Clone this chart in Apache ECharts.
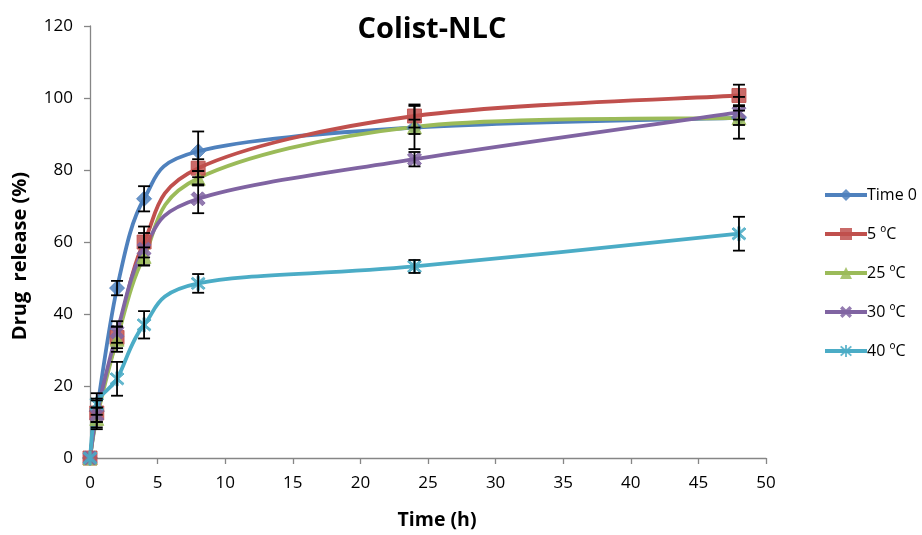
<!DOCTYPE html>
<html>
<head>
<meta charset="utf-8">
<script src="https://cdn.jsdelivr.net/npm/echarts@6/dist/echarts.min.js"></script>
<style>html,body{margin:0;padding:0;background:#fff}#c{width:922px;height:535px}</style>
</head>
<body>
<div id="c"></div>
<script>
const xValues = [0, 0.5, 2, 4, 8, 24, 48];
const seriesNames = ['Time 0', '5 ºC', '25 ºC', '30 ºC', '40 ºC'];
const time0 = [0, 13, 47.2, 72, 85.2, 91.8, 94.5];
const c5 = [0, 12.5, 33.5, 60, 80.5, 95, 100.7];
const c25 = [0, 11, 33, 56, 77.7, 92, 94.5];
const c30 = [0, 12, 35, 58, 72, 83, 96];
const c40 = [0, 15, 22, 37, 48.5, 53.2, 62.3];
const time0Err = [0, 3, 2, 3.5, 5.5, 6, 2];
const c5Err = [0, 4, 3, 4.3, 2.5, 3.2, 3];
const c25Err = [0, 3, 3.5, 2.5, 2, 2, 5.8];
const c30Err = [0, 2, 3, 4.5, 4, 2, 2];
const c40Err = [0, 3, 4.7, 3.8, 2.6, 1.8, 4.7];
const yTicks = [0, 20, 40, 60, 80, 100, 120];
const xTicks = [0, 5, 10, 15, 20, 25, 30, 35, 40, 45, 50];

const values = [time0, c5, c25, c30, c40];
const errors = [time0Err, c5Err, c25Err, c30Err, c40Err];
const colors = ['#4F81BD', '#C0504D', '#9BBB59', '#8064A2', '#4BACC6'];
const symX = 'path://M2,0 L5,3 L8,0 L10,2 L7,5 L10,8 L8,10 L5,7 L2,10 L0,8 L3,5 L0,2 Z';
const symStar = 'path://M4.3,0 L5.7,0 L5.7,10 L4.3,10 Z M0.6,1.6 L1.6,0.6 L9.4,8.4 L8.4,9.4 Z M1.6,9.4 L0.6,8.4 L8.4,0.6 L9.4,1.6 Z';
const symbols = ['diamond', 'rect', 'triangle', symX, symStar];
const symSizes = [15, 14, 14, 14, 14];

// Catmull-Rom style smooth path through points projected by the axis scales
function smoothPath(pts) {
  let d = 'M' + pts[0][0] + ',' + pts[0][1];
  const t = 0.5 / 3 * 2;
  for (let i = 0; i < pts.length - 1; i++) {
    const p0 = pts[i - 1] || pts[i];
    const p1 = pts[i];
    const p2 = pts[i + 1];
    const p3 = pts[i + 2] || p2;
    const c1x = p1[0] + (p2[0] - p0[0]) * t / 2;
    const c1y = p1[1] + (p2[1] - p0[1]) * t / 2;
    const c2x = p2[0] - (p3[0] - p1[0]) * t / 2;
    const c2y = p2[1] - (p3[1] - p1[1]) * t / 2;
    d += ' C' + c1x + ',' + c1y + ' ' + c2x + ',' + c2y + ' ' + p2[0] + ',' + p2[1];
  }
  return d;
}

const chart = echarts.init(document.getElementById('c'));
const series = [];
values.forEach((vals, i) => {
  series.push({
    type: 'custom',
    name: seriesNames[i] + ' curve',
    data: [0],
    z: 1,
    silent: true,
    renderItem: function (params, api) {
      const pts = xValues.map((x, j) => api.coord([x, vals[j]]));
      return {
        type: 'path',
        shape: { pathData: smoothPath(pts) },
        style: { fill: 'none', stroke: colors[i], lineWidth: 3.8, lineJoin: 'round', lineCap: 'round' }
      };
    }
  });
});
values.forEach((vals, i) => {
  series.push({
    type: 'custom',
    name: seriesNames[i] + ' err',
    data: xValues.map((x, j) => [x, vals[j] - errors[i][j], vals[j] + errors[i][j]]),
    z: 3,
    silent: true,
    renderItem: function (params, api) {
      const lo = api.coord([api.value(0), api.value(1)]);
      const hi = api.coord([api.value(0), api.value(2)]);
      if (Math.abs(hi[1] - lo[1]) < 0.5) return null;
      const w = 6;
      const st = { stroke: '#000', lineWidth: 1.8 };
      return {
        type: 'group',
        children: [
          { type: 'line', shape: { x1: lo[0], y1: lo[1], x2: hi[0], y2: hi[1] }, style: st },
          { type: 'line', shape: { x1: lo[0] - w, y1: lo[1], x2: lo[0] + w, y2: lo[1] }, style: st },
          { type: 'line', shape: { x1: hi[0] - w, y1: hi[1], x2: hi[0] + w, y2: hi[1] }, style: st }
        ]
      };
    }
  });
});
values.forEach((vals, i) => {
  series.push({
    type: 'line',
    name: seriesNames[i],
    data: xValues.map((x, j) => [x, vals[j]]),
    symbol: symbols[i],
    symbolSize: symSizes[i],
    showAllSymbol: true,
    z: 2,
    lineStyle: { color: colors[i], width: 4, opacity: 0 },
    itemStyle: { color: colors[i], borderColor: colors[i], opacity: 0.85 }
  });
});

chart.setOption({
  animation: false,
  backgroundColor: '#fff',
  title: {
    text: 'Colist-NLC',
    left: 427, top: 10, textAlign: 'center',
    textStyle: { fontFamily: 'Open Sans', fontWeight: 'bold', fontSize: 29, color: '#000' }
  },
  legend: {
    orient: 'vertical',
    left: 818, top: 182,
    itemWidth: 42, itemHeight: 15, itemGap: 23,
    data: seriesNames.map((n, i) => ({ name: n, lineStyle: { color: colors[i], width: 4, opacity: 1 } })),
    textStyle: { fontFamily: 'Open Sans', fontSize: 16, color: '#000', padding: [0, 0, 0, -5] }
  },
  grid: { left: 90, right: 156, top: 26, bottom: 74, containLabel: false },
  xAxis: {
    type: 'value', min: 0, max: 50, interval: 5,
    name: 'Time (h)', nameLocation: 'middle', nameGap: 52,
    nameTextStyle: { fontFamily: 'Open Sans', fontWeight: 'bold', fontSize: 19.5, color: '#000', padding: [0, 0, 0, 18] },
    axisLine: { show: true, lineStyle: { color: '#868686', width: 1.3 } },
    axisTick: { show: true, inside: false, length: 6, lineStyle: { color: '#868686', width: 1.3 } },
    axisLabel: { fontFamily: 'Open Sans', fontSize: 17, color: '#000', margin: 17 },
    splitLine: { show: false }
  },
  yAxis: {
    type: 'value', min: 0, max: 120, interval: 20,
    axisLine: { show: true, lineStyle: { color: '#868686', width: 1.3 } },
    axisTick: { show: true, inside: false, length: 6, lineStyle: { color: '#868686', width: 1.3 } },
    axisLabel: { fontFamily: 'Open Sans', fontSize: 17, color: '#000', margin: 17 },
    splitLine: { show: false }
  },
  graphic: [{
    type: 'text', left: 10, top: 172, rotation: Math.PI / 2,
    style: { text: 'Drug  release (%)', font: 'bold 20px "Open Sans"', fill: '#000' }
  }],
  series: series
});
</script>
</body>
</html>
